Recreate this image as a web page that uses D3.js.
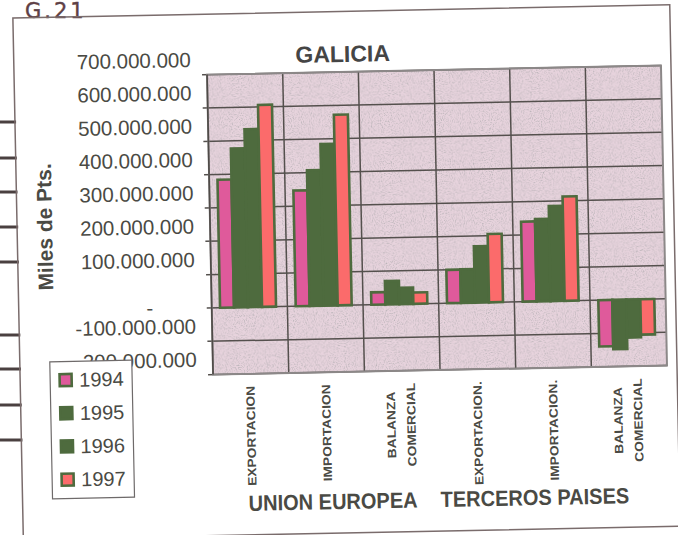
<!DOCTYPE html>
<html>
<head>
<meta charset="utf-8">
<script src="https://cdn.jsdelivr.net/npm/d3@7"></script>
<style>
  body { margin: 0; background: #fff; }
  svg { display: block; }
</style>
</head>
<body>
<svg></svg>
<script>
// values in miles de pts
const years = ['1994', '1995', '1996', '1997'];
const categories = ['EXPORTACION', 'IMPORTACION', 'BALANZA COMERCIAL',
    'EXPORTACION.', 'IMPORTACION.', 'BALANZA COMERCIAL'];
const regions = ['UNION EUROPEA', 'TERCEROS PAISES'];
const v1994 = [384e6, 347e6, 37e6, 100e6, 240e6, -139e6];
const v1995 = [477e6, 407e6, 70e6, 101e6, 247e6, -148e6];
const v1996 = [534e6, 485e6, 49e6, 169e6, 285e6, -114e6];
const v1997 = [606e6, 572e6, 34e6, 205e6, 313e6, -106e6];
const yTicks = [-200e6, -100e6, 0, 100e6, 200e6, 300e6, 400e6, 500e6, 600e6, 700e6];
const binderMarks = [122, 158, 192, 227, 262, 335, 369, 405, 440];

const series = [v1994, v1995, v1996, v1997];
const colors = ['#df5a9b', '#4e6b3e', '#4e6b3e', '#fb6b6b'];
const green = '#4e6b3e';
const ink = '#4a4a44';

const width = 678, height = 535;
const plot = { left: 211, right: 665, top: 72, bottom: 372 };

const svg = d3.select('svg')
    .attr('width', width)
    .attr('height', height)
    .attr('font-family', 'Liberation Sans, Arial, sans-serif');

// speckle of the scanned plot area
let grain = svg.append('defs')
    .append('filter')
    .attr('id', 'grain')
    .attr('x', 0).attr('y', 0).attr('width', 1).attr('height', 1);
grain.append('feTurbulence')
    .attr('type', 'fractalNoise')
    .attr('baseFrequency', 0.9)
    .attr('numOctaves', 2)
    .attr('seed', 3)
    .attr('result', 'noise');
grain.append('feColorMatrix')
    .attr('in', 'noise')
    .attr('type', 'matrix')
    .attr('values', '0 0 0 0 0.45  0 0 0 0 0.43  0 0 0 0 0.45  2.4 0 0 0 -1.1')
    .attr('result', 'spots');
grain.append('feComposite')
    .attr('in', 'spots')
    .attr('in2', 'SourceGraphic')
    .attr('operator', 'in')
    .attr('result', 'spotsIn');
let merge = grain.append('feMerge');
merge.append('feMergeNode').attr('in', 'SourceGraphic');
merge.append('feMergeNode').attr('in', 'spotsIn');

// handwritten page number and binder marks, not part of the tilted sheet
svg.append('text')
    .attr('x', 25)
    .attr('y', 18)
    .attr('font-family', 'DejaVu Sans')
    .attr('font-size', 21)
    .attr('letter-spacing', 3)
    .attr('fill', '#5e4046')
    .attr('stroke', '#5e4046')
    .attr('stroke-width', 0.4)
    .text('G.21');

svg.selectAll('.binder')
    .data(binderMarks)
    .enter()
    .append('line')
    .attr('class', 'binder')
    .attr('x1', 0)
    .attr('x2', d => 14 + 0.02 * (d - 18))
    .attr('y1', d => d)
    .attr('y2', d => d)
    .attr('stroke', '#4a4040')
    .attr('stroke-width', 3);

// the scanned sheet is slightly rotated
let g = svg.append('g')
    .attr('transform', 'rotate(-1.15, 340, 270)');

g.append('rect')
    .attr('x', 18)
    .attr('y', 11.5)
    .attr('width', 657)
    .attr('height', 521.5)
    .attr('fill', 'none')
    .attr('stroke', '#7a6c6c')
    .attr('stroke-width', 1.5);

let x0 = d3.scaleBand()
    .domain(d3.range(categories.length))
    .range([plot.left, plot.right]);

let x1 = d3.scaleBand()
    .domain(years)
    .range([x0.bandwidth() * 0.11, x0.bandwidth() * 0.85]);

let y = d3.scaleLinear()
    .domain([-200e6, 700e6])
    .range([plot.bottom, plot.top]);

let fmt = d3.formatLocale({ decimal: ',', thousands: '.', grouping: [3], currency: ['', ''], minus: '-' })
    .format(',.0f');

g.append('rect')
    .attr('x', plot.left)
    .attr('y', plot.top)
    .attr('width', plot.right - plot.left)
    .attr('height', plot.bottom - plot.top)
    .attr('fill', '#e7d3dd')
    .attr('filter', 'url(#grain)');

// gridlines
g.selectAll('.hgrid')
    .data(yTicks)
    .enter()
    .append('line')
    .attr('class', 'hgrid')
    .attr('x1', plot.left - 5)
    .attr('x2', plot.right)
    .attr('y1', d => y(d))
    .attr('y2', d => y(d))
    .attr('stroke', '#54504d')
    .attr('stroke-width', 1.5);

g.selectAll('.vgrid')
    .data(d3.range(1, categories.length))
    .enter()
    .append('line')
    .attr('class', 'vgrid')
    .attr('x1', d => x0(d))
    .attr('x2', d => x0(d))
    .attr('y1', plot.top)
    .attr('y2', plot.bottom)
    .attr('stroke', '#54504d')
    .attr('stroke-width', 1.5);

// bars
let groups = g.selectAll('.cat')
    .data(categories)
    .enter()
    .append('g')
    .attr('class', 'cat')
    .attr('transform', (d, i) => `translate(${x0(i)}, 0)`);

groups.selectAll('rect')
    .data((d, i) => years.map((yr, j) => ({ year: yr, j: j, value: series[j][i] })))
    .enter()
    .append('rect')
    .attr('x', d => x1(d.year))
    .attr('y', d => y(Math.max(0, d.value)))
    .attr('width', x1.bandwidth())
    .attr('height', d => Math.abs(y(d.value) - y(0)))
    .attr('fill', d => colors[d.j])
    .attr('stroke', green)
    .attr('stroke-width', 2.6);

// plot border and value axis
g.append('rect')
    .attr('x', plot.left)
    .attr('y', plot.top)
    .attr('width', plot.right - plot.left)
    .attr('height', plot.bottom - plot.top)
    .attr('fill', 'none')
    .attr('stroke', '#8c8888')
    .attr('stroke-width', 2);

g.append('line')
    .attr('x1', plot.left)
    .attr('x2', plot.left)
    .attr('y1', plot.top)
    .attr('y2', plot.bottom)
    .attr('stroke', '#4f4b48')
    .attr('stroke-width', 1.6);

g.selectAll('.ylab')
    .data(yTicks)
    .enter()
    .append('text')
    .attr('class', 'ylab')
    .attr('x', d => d === 0 ? plot.left - 62 : plot.left - 16)
    .attr('y', d => d === 0 ? y(d) + 6 : y(d) - 8)
    .attr('text-anchor', d => d === 0 ? 'middle' : 'end')
    .attr('font-size', 20.5)
    .attr('fill', ink)
    .text(d => d === 0 ? '-' : fmt(d));

g.append('text')
    .attr('transform', 'translate(53, 221) rotate(-90)')
    .attr('text-anchor', 'middle')
    .attr('font-weight', 'bold')
    .attr('font-size', 21)
    .attr('fill', ink)
    .text('Miles de Pts.');

g.append('text')
    .attr('x', 347)
    .attr('y', 62)
    .attr('text-anchor', 'middle')
    .attr('font-weight', 'bold')
    .attr('font-size', 23)
    .attr('fill', '#454545')
    .text('GALICIA');

// category labels, rotated
categories.forEach((c, i) => {
    let lines = c.split(' ');
    let xc = x0(i) + x0.bandwidth() / 2;
    lines.forEach((line, k) => {
        let single = lines.length === 1;
        let cx = single ? xc - 1 : xc - 12 + k * 20;
        g.append('text')
            .attr('transform', `translate(${cx + 4.3}, ${single ? 384 : 426}) rotate(-90) scale(1.15, 1)`)
            .attr('text-anchor', single ? 'end' : 'middle')
            .attr('font-weight', 'bold')
            .attr('font-size', 12)
            .attr('fill', ink)
            .text(line);
    });
});

g.selectAll('.region')
    .data(regions)
    .enter()
    .append('text')
    .attr('class', 'region')
    .attr('transform', (d, i) => `translate(${i === 0 ? 244 : 436}, 509) scale(0.91, 1)`)
    .attr('font-weight', 'bold')
    .attr('font-size', 22)
    .attr('fill', ink)
    .text(d => d);

// legend
let legend = g.append('g')
    .attr('transform', 'translate(48, 356)');

legend.append('rect')
    .attr('width', 82)
    .attr('height', 137)
    .attr('fill', '#fff')
    .attr('stroke', '#6e6a6a')
    .attr('stroke-width', 1.2);

let items = legend.selectAll('.item')
    .data(years)
    .enter()
    .append('g')
    .attr('class', 'item')
    .attr('transform', (d, i) => `translate(0, ${18.5 + i * 33.2})`);

items.append('rect')
    .attr('x', 9.5)
    .attr('y', -6)
    .attr('width', 12)
    .attr('height', 12)
    .attr('fill', (d, i) => colors[i])
    .attr('stroke', green)
    .attr('stroke-width', 2.6);

items.append('text')
    .attr('x', 29)
    .attr('y', 7)
    .attr('font-size', 20)
    .attr('fill', ink)
    .text(d => d);
</script>
</body>
</html>
